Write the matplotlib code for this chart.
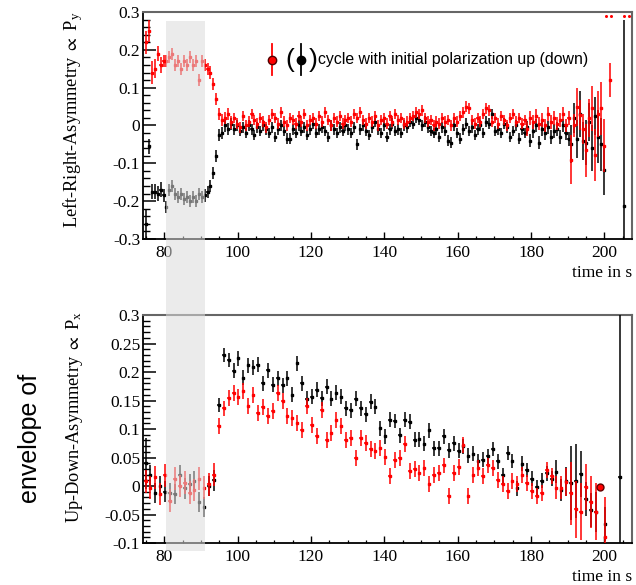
import numpy as np
import matplotlib
matplotlib.use("Agg")
import matplotlib.pyplot as plt
from matplotlib.patches import Rectangle
from matplotlib.ticker import MultipleLocator, FuncFormatter
import matplotlib.transforms as mtransforms

plt.rcParams['axes.unicode_minus'] = False
plt.rcParams['mathtext.fontset'] = 'stix'
SERIF = ['Liberation Serif', 'DejaVu Serif']
SANS = ['Liberation Sans', 'DejaVu Sans']

# ---- data: left-right asymmetry (bins of 0.8 s starting at 75.0 s)
t_top = 75.0 + 0.8 * np.arange(164)

lr_up = [0.22, 0.25, 0.14, 0.15, 0.19, 0.16, 0.17, 0.17, 0.18, 0.19,
         0.16, 0.17, 0.15, 0.17, 0.16, 0.18, 0.16, 0.17, 0.12, 0.17,
         0.16, 0.15, 0.14, 0.11, 0.07, 0.03, 0.015, 0.02, 0.03, 0.008,
         0.02, 0.005, -0.005, 0.025, 0.0, 0.01, 0.03, 0.015, 0.005, 0.02,
         0.01, -0.005, 0.015, 0.03, 0.02, 0.005, 0.035, 0.01, 0.0, 0.02,
         0.015, 0.005, 0.025, 0.01, 0.03, 0.0, 0.015, 0.02, 0.005, 0.025,
         0.01, 0.035, 0.015, 0.0, 0.02, 0.01, 0.025, 0.005, 0.015, 0.02,
         0.01, 0.03, 0.02, 0.035, 0.015, 0.005, 0.02, 0.01, 0.025, 0.0,
         0.015, 0.02, 0.005, 0.025, 0.01, 0.03, 0.015, 0.02, 0.005, 0.01,
         0.02, 0.025, 0.035, 0.03, 0.04, 0.02, 0.01, 0.015, 0.0, 0.01,
         0.005, 0.02, 0.01, 0.015, 0.0, 0.02, 0.01, 0.025, 0.035, 0.05,
         0.045, 0.015, 0.005, 0.02, 0.01, 0.03, 0.045, 0.04, 0.01, 0.02,
         0.005, 0.025, 0.015, 0.0, 0.02, 0.03, 0.01, 0.02, 0.005, 0.015,
         -0.01, 0.02, 0.01, 0.025, 0.005, 0.015, 0.0, 0.03, 0.01, 0.02,
         0.005, 0.015, 0.03, 0.0, 0.02,
         -0.09, 0.0, 0.048, 0.028, -0.01, -0.065, 0.02, 0.045, -0.078, 0.03,
         0.045, -0.053, np.nan, 0.12, np.nan, np.nan, np.nan, np.nan, np.nan]
lr_up_err = ([0.03, 0.03, 0.03, 0.025, 0.02, 0.02] + [0.016] * 24 + [0.014] * 100
             + [0.018] * 15
             + [0.065, 0.03, 0.05, 0.04, 0.04, 0.07, 0.05, 0.06, 0.07, 0.06,
                0.07, 0.07, 0.0, 0.045, 0.0, 0.0, 0.0, 0.0, 0.0])

lr_down = [-0.26, -0.055, -0.175, -0.175, -0.18, -0.17, -0.185, -0.215, -0.17, -0.16,
           -0.18, -0.19, -0.18, -0.195, -0.19, -0.2, -0.19, -0.2, -0.18, -0.19,
           -0.185, -0.175, -0.16, -0.125, -0.08, -0.025, -0.02, 0.0, -0.01, 0.005,
           -0.01, 0.0, -0.015, -0.005, -0.02, 0.0, -0.01, -0.025, -0.005, -0.015,
           0.0, -0.01, -0.02, -0.005, -0.03, -0.01, 0.0, -0.015, -0.035, -0.035,
           -0.01, -0.02, 0.0, -0.015, -0.005, -0.025, -0.01, 0.005, -0.02, -0.01,
           -0.005, -0.015, -0.03, 0.0, -0.01, -0.02, -0.005, -0.015, 0.0, -0.01,
           -0.02, -0.005, -0.05, -0.01, 0.0, -0.015, -0.025, -0.005, 0.01, -0.01,
           -0.02, 0.0, -0.03, -0.01, 0.005, -0.015, -0.01, -0.02, 0.0, -0.005,
           0.01, 0.005, 0.02, 0.015, 0.0, 0.01, -0.005, -0.015, -0.02, -0.01,
           -0.03, -0.005, -0.015, -0.04, -0.045, 0.0, -0.02, -0.035, -0.01, 0.005,
           -0.015, -0.005, -0.025, -0.01, 0.0, -0.02, 0.01, 0.005, 0.03, -0.015,
           -0.01, -0.02, 0.005, -0.005, -0.03, -0.015, 0.0, -0.035, -0.01, -0.02,
           -0.005, -0.04, -0.015, 0.0, -0.045, -0.01, -0.02, -0.005, -0.03, -0.015,
           -0.01, -0.03, 0.0, -0.02, -0.035,
           -0.05, 0.02, -0.035, 0.03, -0.04, -0.045, 0.01, -0.06, 0.025, -0.03,
           -0.05, -0.118, np.nan, np.nan, np.nan, np.nan, np.nan, np.nan, -0.212]
lr_down_err = ([0.04, 0.02, 0.02, 0.02, 0.02, 0.02] + [0.016] * 24 + [0.014] * 100
               + [0.018] * 15
               + [0.05, 0.04, 0.05, 0.06, 0.05, 0.06, 0.05, 0.06, 0.05, 0.07,
                  0.07, 0.065, 0.0, 0.0, 0.0, 0.0, 0.0, 0.0, 0.49])

overflow_t = [200.5, 201.8, 205.3, 206.6]
overflow_v = [0.29, 0.29, 0.29, 0.29]

# ---- data: up-down asymmetry (bins of 4/3 s starting at 74.9 s)
t_bot = 74.9 + (4.0 / 3.0) * np.arange(98)

ud_up = [0.008, -0.003, 0.015, -0.014, 0.019, -0.026, 0.013, 0.0, 0.006, -0.012,
         -0.007, 0.013, -0.003, 0.003, 0.02, 0.105, 0.136, 0.154, 0.163, 0.157,
         0.166, 0.14, 0.16, 0.128, 0.138, 0.123, 0.131, 0.163, 0.149, 0.123,
         0.12, 0.111, 0.099, 0.14, 0.107, 0.088, 0.133, 0.081, 0.093, 0.115,
         0.105, 0.08, 0.084, 0.049, 0.084, 0.076, 0.065, 0.061, 0.067, 0.051,
         0.018, 0.046, 0.049, 0.073, 0.026, 0.029, 0.023, 0.032, 0.003, 0.02,
         0.023, 0.036, -0.017, 0.023, 0.033, 0.072, -0.017, 0.02, 0.032, 0.018,
         0.036, 0.032, 0.011, 0.004, -0.009, 0.009, 0.004, 0.02, 0.005, -0.009,
         -0.017, -0.013, 0.028, 0.018, -0.003, -0.003, 0.007, -0.013, -0.041, -0.045,
         -0.002, -0.028, -0.045, -0.002, -0.09, np.nan, np.nan, np.nan]
ud_up_err = ([0.02] * 15 + [0.014] * 69
             + [0.02, 0.02, 0.025, 0.055, 0.05, 0.05, 0.04, 0.045, 0.05, 0.004,
                0.07, 0.0, 0.0, 0.0])

ud_down = [0.04, 0.019, -0.012, 0.0, -0.01, -0.012, -0.014, 0.019, -0.004, 0.003,
           0.009, -0.028, -0.037, 0.0, 0.01, 0.142, 0.23, 0.221, 0.202, 0.224,
           0.19, 0.212, 0.208, 0.213, 0.18, 0.203, 0.178, 0.189, 0.177, 0.189,
           0.16, 0.215, 0.18, 0.153, 0.157, 0.169, 0.154, 0.174, 0.153, 0.164,
           0.157, 0.136, 0.133, 0.153, 0.136, 0.126, 0.148, 0.139, 0.101, 0.087,
           0.116, 0.114, 0.089, 0.116, 0.113, 0.081, 0.082, 0.074, 0.098, 0.066,
           0.066, 0.087, 0.063, 0.075, 0.062, 0.07, 0.053, 0.057, 0.043, 0.046,
           0.052, 0.065, 0.043, 0.019, 0.058, 0.044, -0.004, 0.039, 0.028, 0.013,
           -0.002, 0.009, 0.022, 0.013, 0.025, -0.007, 0.008, 0.006, 0.009, 0.021,
           -0.023, -0.042, -0.045, -0.002, -0.067, np.nan, np.nan, 0.015]
ud_down_err = ([0.045] + [0.018] * 14 + [0.013] * 69
               + [0.02, 0.02, 0.025, 0.065, 0.065, 0.04, 0.03, 0.03, 0.035, 0.005,
                  0.03, 0.0, 0.0, 0.6])

shade_t = (80.6, 91.0)
legend_text = 'cycle with initial polarization up (down)'

# ---- figure
fig = plt.figure(figsize=(6.36, 5.85), dpi=100)
ax1 = fig.add_axes([0.2248, 0.5915, 0.7689, 0.388])
ax2 = fig.add_axes([0.2248, 0.0718, 0.7689, 0.3897])


def draw(ax, t, up, up_err, down, down_err, xe):
    ax.errorbar(t, down, yerr=down_err, xerr=xe, fmt='s', color='black', ms=2.0,
                elinewidth=1.1, capsize=0, zorder=3)
    ax.errorbar(t, up, yerr=up_err, xerr=xe, fmt='s', color='red', ms=2.0,
                elinewidth=1.1, capsize=0, zorder=4)


draw(ax1, t_top, lr_up, lr_up_err, lr_down, lr_down_err, 0.3)
ax1.plot(overflow_t, overflow_v, 'o', color='red', ms=2.2, mew=0, zorder=4,
         clip_on=False)
draw(ax2, t_bot, ud_up, ud_up_err, ud_down, ud_down_err, 0.45)
ax2.plot([t_bot[93]], [ud_up[93]], 'o', mfc='red', mec='#600000', ms=5, zorder=5)

fmt = FuncFormatter(lambda v, p: '%g' % round(v, 3))
for ax, ylo, yhi, ymaj, ymin in [(ax1, -0.3, 0.3, 0.1, 0.02),
                                 (ax2, -0.1, 0.3, 0.05, 0.01)]:
    ax.set_xlim(74.2, 207.5)
    ax.set_ylim(ylo, yhi)
    ax.xaxis.set_major_locator(MultipleLocator(20))
    ax.xaxis.set_minor_locator(MultipleLocator(5))
    ax.yaxis.set_major_locator(MultipleLocator(ymaj))
    ax.yaxis.set_minor_locator(MultipleLocator(ymin))
    ax.yaxis.set_major_formatter(fmt)
    ax.tick_params(axis='y', which='major', direction='in', length=9.5, width=1.1,
                   pad=2, labelsize=12.5)
    ax.tick_params(axis='y', which='minor', direction='in', length=5, width=1.0)
    ax.tick_params(axis='x', which='major', direction='in', length=5, width=1.0,
                   pad=4, labelsize=12.5)
    ax.tick_params(axis='x', which='minor', direction='in', length=2.5, width=0.9)
    for lab in ax.get_xticklabels() + ax.get_yticklabels():
        lab.set_family(SERIF)
    ax.spines['left'].set_linewidth(1.3)
    ax.spines['bottom'].set_linewidth(1.3)
    ax.spines['top'].set_color('#666666')
    ax.spines['right'].set_color('#666666')
    ax.spines['top'].set_linewidth(1.5)
    ax.spines['right'].set_linewidth(1.5)
    ax.set_xlabel('time in s', loc='right', family=SERIF, fontsize=12.5)
    ax.xaxis.set_label_coords(1.0, -0.115)

ax1.set_ylabel('Left-Right-Asymmetry $\\propto$ P$_\\mathregular{y}$', loc='top',
               family=SERIF, fontsize=13.2)
ax1.yaxis.set_label_coords(-0.119, 1.0)
ax2.set_ylabel('Up-Down-Asymmetry $\\propto$ P$_\\mathregular{x}$', loc='top',
               family=SERIF, fontsize=13.2)
ax2.yaxis.set_label_coords(-0.119, 1.02)

# legend drawn by hand, ROOT style
ta = ax1.transAxes
ax1.plot([0.264, 0.264], [0.722, 0.859], color='red', lw=1.3, transform=ta)
ax1.plot([0.264], [0.79], 'o', mfc='red', mec='#500000', ms=6, transform=ta)
ax1.plot([0.324, 0.324], [0.722, 0.859], color='black', lw=1.3, transform=ta)
ax1.plot([0.324], [0.79], 'o', color='black', ms=6, transform=ta)
ax1.text(0.300, 0.79, '(', transform=ta, ha='center', va='center', fontsize=19,
         family=SANS)
ax1.text(0.348, 0.79, ')', transform=ta, ha='center', va='center', fontsize=19,
         family=SANS)
ax1.text(0.357, 0.79, legend_text, transform=ta, ha='left', va='center',
         fontsize=11.4, family=SANS)

fig.text(0.047, 0.251, 'envelope of', rotation=90, ha='center', va='center',
         fontsize=18, family=SANS)

# shaded time window across both panels
tr = mtransforms.blended_transform_factory(ax1.transData, fig.transFigure)
fig.patches.append(Rectangle((shade_t[0], 0.058), shade_t[1] - shade_t[0], 0.906,
                             transform=tr, facecolor='#dcdcdc', alpha=0.55,
                             edgecolor='none', zorder=10))

fig.savefig('out.png', dpi=100)
